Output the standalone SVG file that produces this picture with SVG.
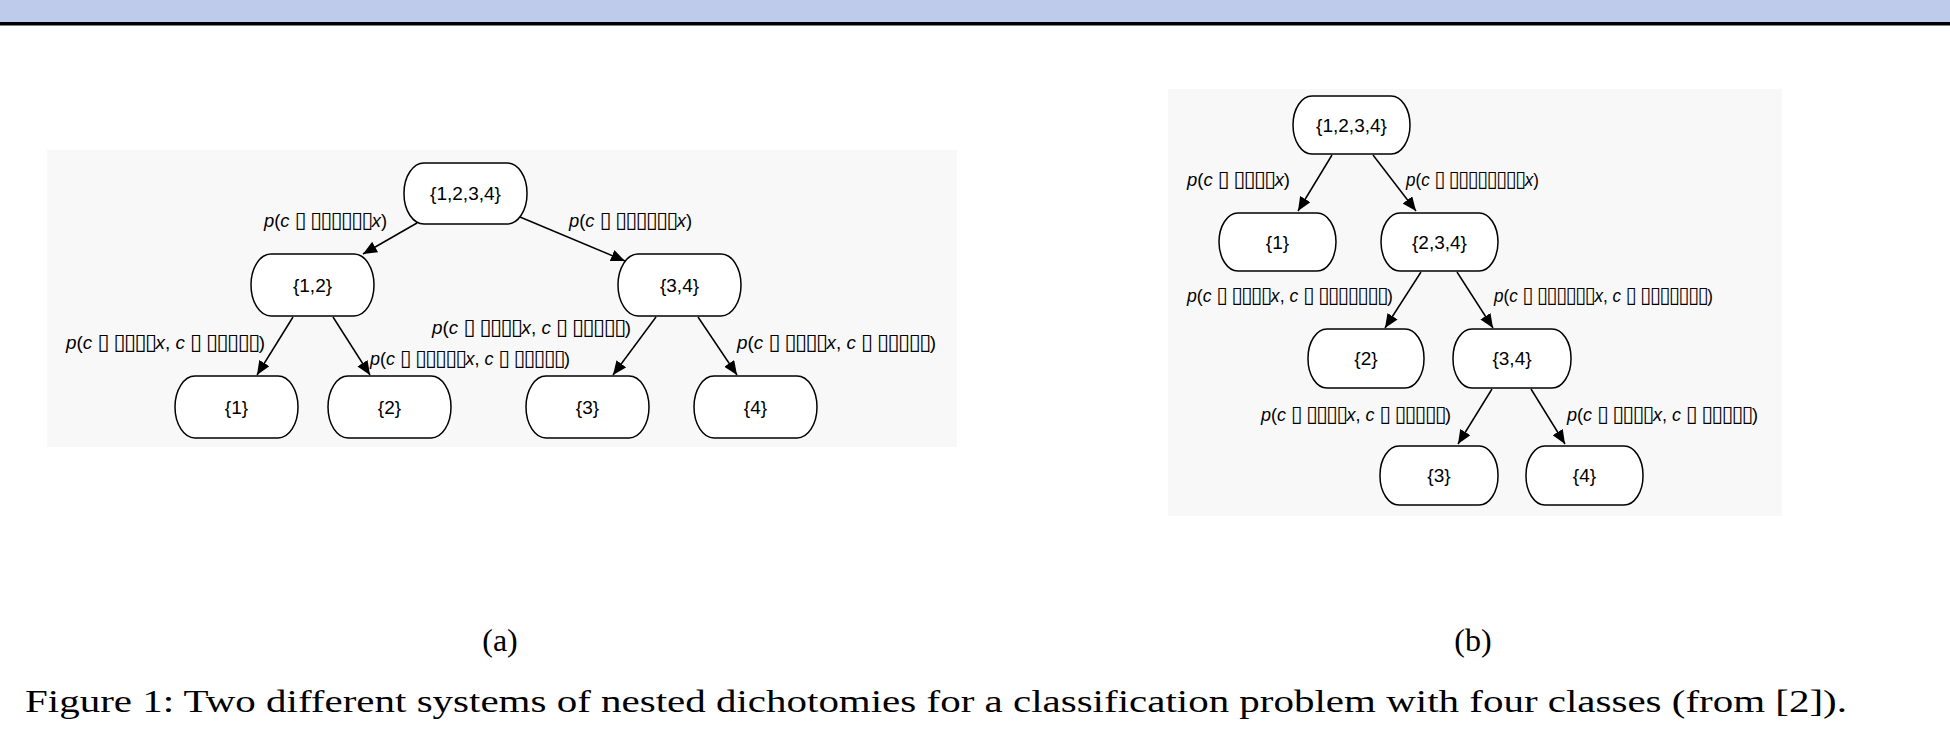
<svg xmlns="http://www.w3.org/2000/svg" width="1950" height="740" viewBox="0 0 1950 740">
<defs>
<style>
.node rect{fill:#ffffff;stroke:#000;stroke-width:1.5}
.node text{font-family:"Liberation Sans",Arial,sans-serif;font-size:19px;text-anchor:middle;fill:#000}
.lbl{font-family:"Liberation Sans","DejaVu Sans",Arial,sans-serif;font-size:19px;fill:#000}
.it{font-style:italic}
.bx{font-family:"DejaVu Sans",sans-serif;font-size:22px;letter-spacing:-1.5px}
.edge{stroke:#000;stroke-width:1.5;fill:none;marker-end:url(#arr)}
.cap{font-family:"Liberation Serif","Times New Roman",serif;font-size:32px;fill:#000}
</style>
<marker id="arr" markerUnits="userSpaceOnUse" markerWidth="14" markerHeight="12" refX="14" refY="6" orient="auto">
<path d="M0,0 L14,6 L0,12 Z" fill="#000"/>
</marker>
</defs>
<rect x="0" y="0" width="1950" height="740" fill="#ffffff"/>
<rect x="0" y="0" width="1950" height="22" fill="#bfcbea"/>
<rect x="0" y="22" width="1950" height="3.5" fill="#000"/>
<rect x="47" y="150" width="910" height="297" fill="#f8f8f8"/>
<rect x="1168" y="89" width="614" height="427" fill="#f8f8f8"/>

<g id="connectors">
<line class="edge" x1="417" y1="223" x2="363" y2="254"/>
<line class="edge" x1="520" y1="217" x2="625" y2="261"/>
<line class="edge" x1="293" y1="317" x2="257" y2="375"/>
<line class="edge" x1="333" y1="317" x2="370" y2="375"/>
<line class="edge" x1="656" y1="317" x2="613" y2="375"/>
<line class="edge" x1="698" y1="317" x2="737" y2="375"/>
<line class="edge" x1="1332" y1="155" x2="1298" y2="211"/>
<line class="edge" x1="1373" y1="155" x2="1416" y2="211"/>
<line class="edge" x1="1421" y1="272" x2="1385" y2="328"/>
<line class="edge" x1="1457" y1="272" x2="1493" y2="328"/>
<line class="edge" x1="1492" y1="389" x2="1458" y2="444"/>
<line class="edge" x1="1531" y1="389" x2="1565" y2="444"/>
</g>

<g id="edge-labels">
<text class="lbl" x="264" y="227" textLength="123" lengthAdjust="spacingAndGlyphs"><tspan class="it">p</tspan>(<tspan class="it">c</tspan> <tspan class="bx">▯ ▯▯▯▯▯▯</tspan><tspan class="it">x</tspan>)</text>
<text class="lbl" x="569" y="227" textLength="123" lengthAdjust="spacingAndGlyphs"><tspan class="it">p</tspan>(<tspan class="it">c</tspan> <tspan class="bx">▯ ▯▯▯▯▯▯</tspan><tspan class="it">x</tspan>)</text>
<text class="lbl" x="66" y="349" textLength="199" lengthAdjust="spacingAndGlyphs"><tspan class="it">p</tspan>(<tspan class="it">c</tspan> <tspan class="bx">▯ ▯▯▯▯</tspan><tspan class="it">x</tspan>, <tspan class="it">c</tspan> <tspan class="bx">▯ ▯▯▯▯▯</tspan>)</text>
<text class="lbl" x="370" y="365" textLength="200" lengthAdjust="spacingAndGlyphs"><tspan class="it">p</tspan>(<tspan class="it">c</tspan> <tspan class="bx">▯ ▯▯▯▯▯</tspan><tspan class="it">x</tspan>, <tspan class="it">c</tspan> <tspan class="bx">▯ ▯▯▯▯▯</tspan>)</text>
<text class="lbl" x="432" y="334" textLength="199" lengthAdjust="spacingAndGlyphs"><tspan class="it">p</tspan>(<tspan class="it">c</tspan> <tspan class="bx">▯ ▯▯▯▯</tspan><tspan class="it">x</tspan>, <tspan class="it">c</tspan> <tspan class="bx">▯ ▯▯▯▯▯</tspan>)</text>
<text class="lbl" x="737" y="349" textLength="199" lengthAdjust="spacingAndGlyphs"><tspan class="it">p</tspan>(<tspan class="it">c</tspan> <tspan class="bx">▯ ▯▯▯▯</tspan><tspan class="it">x</tspan>, <tspan class="it">c</tspan> <tspan class="bx">▯ ▯▯▯▯▯</tspan>)</text>

<text class="lbl" x="1187" y="186" textLength="103" lengthAdjust="spacingAndGlyphs"><tspan class="it">p</tspan>(<tspan class="it">c</tspan> <tspan class="bx">▯ ▯▯▯▯</tspan><tspan class="it">x</tspan>)</text>
<text class="lbl" x="1406" y="186" textLength="133" lengthAdjust="spacingAndGlyphs"><tspan class="it">p</tspan>(<tspan class="it">c</tspan> <tspan class="bx">▯ ▯▯▯▯▯▯▯▯</tspan><tspan class="it">x</tspan>)</text>
<text class="lbl" x="1187" y="302" textLength="206" lengthAdjust="spacingAndGlyphs"><tspan class="it">p</tspan>(<tspan class="it">c</tspan> <tspan class="bx">▯ ▯▯▯▯</tspan><tspan class="it">x</tspan>, <tspan class="it">c</tspan> <tspan class="bx">▯ ▯▯▯▯▯▯▯</tspan>)</text>
<text class="lbl" x="1494" y="302" textLength="219" lengthAdjust="spacingAndGlyphs"><tspan class="it">p</tspan>(<tspan class="it">c</tspan> <tspan class="bx">▯ ▯▯▯▯▯▯</tspan><tspan class="it">x</tspan>, <tspan class="it">c</tspan> <tspan class="bx">▯ ▯▯▯▯▯▯▯</tspan>)</text>
<text class="lbl" x="1261" y="421" textLength="190" lengthAdjust="spacingAndGlyphs"><tspan class="it">p</tspan>(<tspan class="it">c</tspan> <tspan class="bx">▯ ▯▯▯▯</tspan><tspan class="it">x</tspan>, <tspan class="it">c</tspan> <tspan class="bx">▯ ▯▯▯▯▯</tspan>)</text>
<text class="lbl" x="1567" y="421" textLength="191" lengthAdjust="spacingAndGlyphs"><tspan class="it">p</tspan>(<tspan class="it">c</tspan> <tspan class="bx">▯ ▯▯▯▯</tspan><tspan class="it">x</tspan>, <tspan class="it">c</tspan> <tspan class="bx">▯ ▯▯▯▯▯</tspan>)</text>
</g>

<g id="a-root" class="node"><rect x="404" y="163" width="123" height="61" rx="20" ry="30"/><text x="465.5" y="200">{1,2,3,4}</text></g>
<g id="a-12" class="node"><rect x="251" y="254" width="123" height="62" rx="20" ry="31"/><text x="312.5" y="292">{1,2}</text></g>
<g id="a-34" class="node"><rect x="618" y="254" width="123" height="62" rx="20" ry="31"/><text x="679.5" y="292">{3,4}</text></g>
<g id="a-1" class="node"><rect x="175" y="376" width="123" height="62" rx="20" ry="31"/><text x="236.5" y="414">{1}</text></g>
<g id="a-2" class="node"><rect x="328" y="376" width="123" height="62" rx="20" ry="31"/><text x="389.5" y="414">{2}</text></g>
<g id="a-3" class="node"><rect x="526" y="376" width="123" height="62" rx="20" ry="31"/><text x="587.5" y="414">{3}</text></g>
<g id="a-4" class="node"><rect x="694" y="376" width="123" height="62" rx="20" ry="31"/><text x="755.5" y="414">{4}</text></g>

<g id="b-root" class="node"><rect x="1293" y="96" width="117" height="58" rx="19" ry="29"/><text x="1351.5" y="132">{1,2,3,4}</text></g>
<g id="b-1" class="node"><rect x="1219" y="213" width="117" height="58" rx="19" ry="29"/><text x="1277.5" y="249">{1}</text></g>
<g id="b-234" class="node"><rect x="1381" y="213" width="117" height="58" rx="19" ry="29"/><text x="1439.5" y="249">{2,3,4}</text></g>
<g id="b-2" class="node"><rect x="1308" y="329" width="116" height="59" rx="19" ry="29"/><text x="1366" y="365">{2}</text></g>
<g id="b-34" class="node"><rect x="1453" y="329" width="118" height="59" rx="19" ry="29"/><text x="1512" y="365">{3,4}</text></g>
<g id="b-3" class="node"><rect x="1380" y="446" width="118" height="59" rx="19" ry="29"/><text x="1439" y="482">{3}</text></g>
<g id="b-4" class="node"><rect x="1526" y="446" width="117" height="59" rx="19" ry="29"/><text x="1584.5" y="482">{4}</text></g>

<text class="cap" x="500" y="651" text-anchor="middle">(a)</text>
<text class="cap" x="1473" y="651" text-anchor="middle">(b)</text>
<text class="cap" x="25" y="712" textLength="1822" lengthAdjust="spacingAndGlyphs">Figure 1: Two different systems of nested dichotomies for a classification problem with four classes (from [2]).</text>
</svg>
